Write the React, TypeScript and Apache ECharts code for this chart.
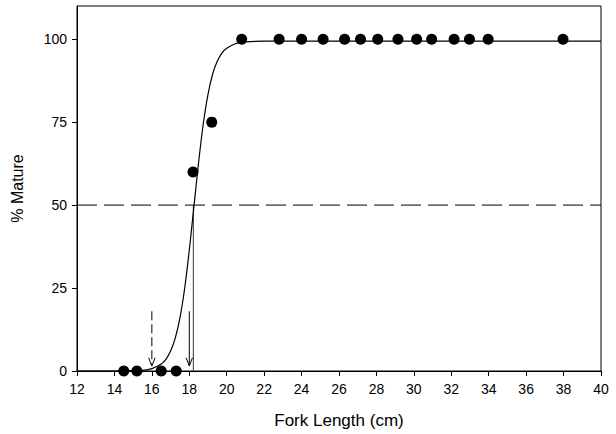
import React, { useEffect, useRef } from "react";
import * as echarts from "echarts";

// Observed data points (fork length, % mature)
const obsLength = [14.5, 15.2, 16.5, 17.3, 18.2, 19.2, 20.8, 22.8, 24.0, 25.15, 26.3, 27.15, 28.07, 29.15, 30.15, 30.95, 32.15, 32.97, 33.97, 37.97];
const obsMature = [0, 0, 0, 0, 60, 75, 100, 100, 100, 100, 100, 100, 100, 100, 100, 100, 100, 100, 100, 100];

// Fitted curve
const curveLength = [12, 14, 15, 15.5, 16, 16.5, 16.75, 17, 17.25, 17.5, 17.75, 18, 18.25, 18.5, 18.75, 19, 19.25, 19.5, 19.75, 20, 20.5, 21, 22, 40];
const curveMature = [0, 0, 0.1, 0.2, 0.7, 2.1, 3.5, 6.0, 9.9, 16.0, 24.8, 36.4, 49.7, 63.0, 74.6, 83.4, 89.5, 93.4, 95.9, 97.3, 98.7, 99.2, 99.4, 99.4];

// Reference lines
const halfLevel = 50;
const l50 = 18.22;
const arrowLengths = [16, 18];
const arrowTop = 18;
const arrowTip = 1.5;

// Axis ticks
const xMin = 12;
const xMax = 40;
const xStep = 2;
const yTicks = [0, 25, 50, 75, 100];
const yMax = 110;

const FONT = "'Liberation Sans', Arial, Helvetica, sans-serif";

export default function App() {
  const ref = useRef<HTMLDivElement>(null);

  useEffect(() => {
    if (!ref.current) return;
    const chart = echarts.init(ref.current, undefined, { renderer: "svg" });

    const headDx = 0.17;
    const headDy = 2.5;

    const arrowSeries: any[] = [];
    arrowLengths.forEach((x, i) => {
      arrowSeries.push({
        type: "line",
        data: [
          [x, arrowTop],
          [x, arrowTip],
        ],
        symbol: "none",
        lineStyle: { color: "#000", width: 1, type: i === 0 ? [9, 4] : "solid" },
        z: 4,
      });
      arrowSeries.push({
        type: "line",
        data: [
          [x - headDx, arrowTip + headDy],
          [x, arrowTip],
          [x + headDx, arrowTip + headDy],
        ],
        symbol: "none",
        lineStyle: { color: "#000", width: 1 },
        z: 4,
      });
    });

    chart.setOption({
      animation: false,
      textStyle: { fontFamily: FONT },
      grid: {
        left: 77,
        right: 15,
        top: 6,
        bottom: 62,
        show: true,
        borderColor: "#000",
        borderWidth: 1,
      },
      xAxis: {
        type: "value",
        min: xMin,
        max: xMax,
        interval: xStep,
        name: "Fork Length (cm)",
        nameLocation: "middle",
        nameGap: 41,
        nameTextStyle: { fontSize: 17, color: "#000", fontFamily: FONT },
        axisLine: { show: true, onZero: false, lineStyle: { color: "#000", width: 1 } },
        axisTick: { show: true, inside: false, length: 5, lineStyle: { color: "#000" } },
        axisLabel: { fontSize: 14, color: "#000", margin: 11, fontFamily: FONT },
        splitLine: { show: false },
      },
      yAxis: {
        type: "value",
        min: 0,
        max: yMax,
        name: "% Mature",
        nameLocation: "middle",
        nameGap: 52,
        nameTextStyle: { fontSize: 16, color: "#000", fontFamily: FONT },
        axisLine: { show: true, onZero: false, lineStyle: { color: "#000", width: 1 } },
        axisTick: { show: true, inside: false, length: 5, customValues: yTicks, lineStyle: { color: "#000" } },
        axisLabel: { fontSize: 14, color: "#000", margin: 10, customValues: yTicks, fontFamily: FONT },
        splitLine: { show: false },
      },
      series: [
        {
          type: "line",
          data: [
            [xMin, halfLevel],
            [xMax, halfLevel],
          ],
          symbol: "none",
          lineStyle: { color: "#000", width: 1, type: [20, 7] },
          z: 2,
        },
        {
          type: "line",
          data: [
            [l50, halfLevel],
            [l50, 0],
          ],
          symbol: "none",
          lineStyle: { color: "#555", width: 1.2 },
          z: 2,
        },
        {
          type: "line",
          data: curveLength.map((x, i) => [x, curveMature[i]]),
          symbol: "none",
          smooth: 0.3,
          lineStyle: { color: "#000", width: 1.2 },
          z: 3,
        },
        ...arrowSeries,
        {
          type: "scatter",
          data: obsLength.map((x, i) => [x, obsMature[i]]),
          symbol: "circle",
          symbolSize: 11,
          itemStyle: { color: "#000", opacity: 1 },
          z: 5,
        },
      ],
    });

    return () => chart.dispose();
  }, []);

  return (
    <div
      ref={ref}
      style={{ position: "absolute", left: 0, top: 0, width: 616, height: 434, background: "#fff" }}
    />
  );
}
